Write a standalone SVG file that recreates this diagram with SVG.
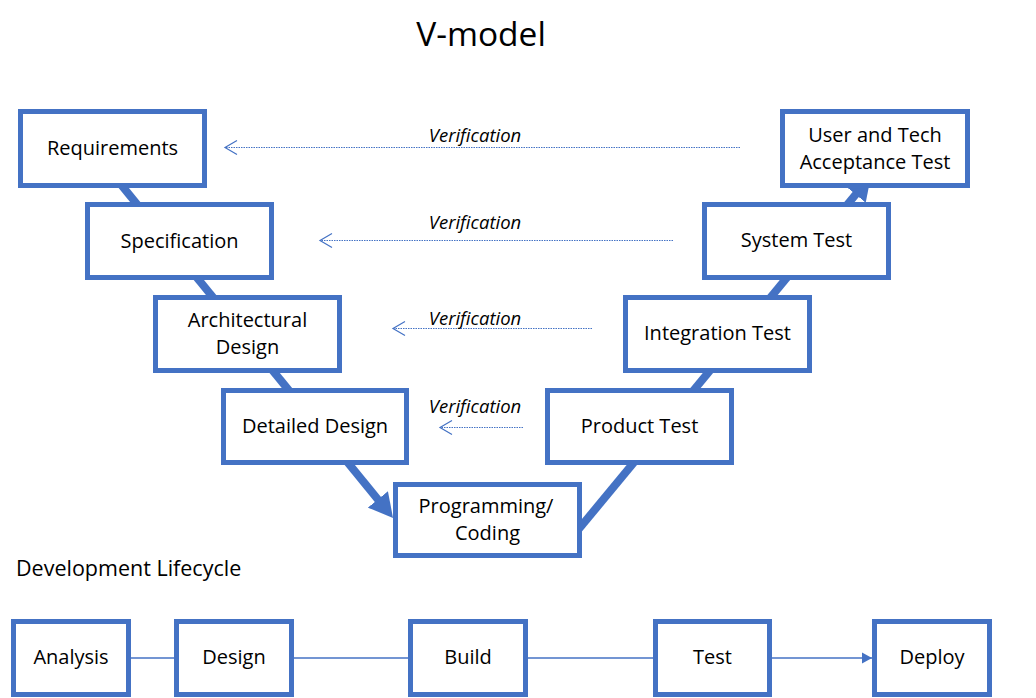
<svg xmlns="http://www.w3.org/2000/svg" width="1036" height="698" viewBox="0 0 1036 698">
<style>
  .box { fill: #ffffff; stroke: #4472C4; stroke-width: 5; }
  .lbl { font-family: "Open Sans", "Noto Sans", "Liberation Sans", sans-serif; font-size: 20px; fill: #000; text-anchor: middle; }
  .ver { font-family: "Open Sans", "Noto Sans", "Liberation Sans", sans-serif; font-size: 18.5px; font-style: italic; fill: #000; text-anchor: middle; }
  .thick { stroke: #4472C4; stroke-width: 8; fill: none; }
  .dot { stroke: #4472C4; stroke-width: 1.2; stroke-dasharray: 1.5 1; fill: none; }
  .thin { stroke: #4472C4; stroke-width: 1.5; fill: none; }
</style>
<defs>
  <marker id="big" markerUnits="userSpaceOnUse" markerWidth="24" markerHeight="26" refX="14" refY="13" orient="auto">
    <path d="M0,0 L24,13 L0,26 z" fill="#4472C4"/>
  </marker>
  <marker id="open" markerUnits="userSpaceOnUse" markerWidth="14" markerHeight="16" refX="13" refY="8" orient="auto" overflow="visible">
    <path d="M1,1 L13,8 L1,15" fill="none" stroke="#4472C4" stroke-width="1.2"/>
  </marker>
  <marker id="small" markerUnits="userSpaceOnUse" markerWidth="10" markerHeight="12" refX="10" refY="6" orient="auto">
    <path d="M0,0.5 L10,6 L0,11.5 z" fill="#4472C4"/>
  </marker>
</defs>

<text x="481" y="46" font-family="Open Sans, Noto Sans, Liberation Sans, sans-serif" font-size="33.5" text-anchor="middle" fill="#000">V-model</text>

<g id="connectors">
  <path class="thick" d="M105,165 L386.7,510.2" marker-end="url(#big)"/>
  <path class="thick" d="M578,530 L864.6,183.7" marker-end="url(#big)"/>
  <path class="dot" d="M740,147.5 L225,147.5" marker-end="url(#open)"/>
  <path class="dot" d="M673,240.5 L320,240.5" marker-end="url(#open)"/>
  <path class="dot" d="M592,328.5 L393,328.5" marker-end="url(#open)"/>
  <path class="dot" d="M523,427.5 L440,427.5" marker-end="url(#open)"/>
  <text class="ver" x="475" y="142">Verification</text>
  <text class="ver" x="475" y="229">Verification</text>
  <text class="ver" x="475" y="325">Verification</text>
  <text class="ver" x="475" y="413">Verification</text>
  <path class="thin" d="M131,658 L174,658"/>
  <path class="thin" d="M294,658 L408,658"/>
  <path class="thin" d="M528,658 L653,658"/>
  <path class="thin" d="M772,658 L872,658" marker-end="url(#small)"/>
</g>

<g id="requirements"><rect class="box" x="20.5" y="111.5" width="184" height="74"/><text class="lbl" x="112.5" y="155">Requirements</text></g>
<g id="specification"><rect class="box" x="87.5" y="204.5" width="184" height="73"/><text class="lbl" x="179.5" y="248">Specification</text></g>
<g id="architectural-design"><rect class="box" x="155.5" y="297.5" width="184" height="73"/><text class="lbl" x="247.5" y="327">Architectural</text><text class="lbl" x="247.5" y="354">Design</text></g>
<g id="detailed-design"><rect class="box" x="223.5" y="390.5" width="183" height="72"/><text class="lbl" x="315" y="433">Detailed Design</text></g>
<g id="programming"><rect class="box" x="395.5" y="484.5" width="184" height="71"/><text class="lbl" x="486" y="513">Programming/</text><text class="lbl" x="487.5" y="540">Coding</text></g>
<g id="acceptance-test"><rect class="box" x="782.5" y="111.5" width="185" height="74"/><text class="lbl" x="875" y="142">User and Tech</text><text class="lbl" x="875" y="169">Acceptance Test</text></g>
<g id="system-test"><rect class="box" x="704.5" y="204.5" width="184" height="73"/><text class="lbl" x="796.5" y="247">System Test</text></g>
<g id="integration-test"><rect class="box" x="625.5" y="297.5" width="184" height="73"/><text class="lbl" x="717.5" y="340">Integration Test</text></g>
<g id="product-test"><rect class="box" x="547.5" y="390.5" width="184" height="72"/><text class="lbl" x="639.5" y="433">Product Test</text></g>

<text x="16" y="576" font-family="Open Sans, Noto Sans, Liberation Sans, sans-serif" font-size="21.5" fill="#000">Development Lifecycle</text>

<g id="analysis"><rect class="box" x="13.5" y="621.5" width="115" height="73"/><text class="lbl" x="71" y="664">Analysis</text></g>
<g id="design"><rect class="box" x="176.5" y="621.5" width="115" height="73"/><text class="lbl" x="234" y="664">Design</text></g>
<g id="build"><rect class="box" x="410.5" y="621.5" width="115" height="73"/><text class="lbl" x="468" y="664">Build</text></g>
<g id="test"><rect class="box" x="655.5" y="621.5" width="114" height="73"/><text class="lbl" x="712.5" y="664">Test</text></g>
<g id="deploy"><rect class="box" x="874.5" y="621.5" width="115" height="73"/><text class="lbl" x="932" y="664">Deploy</text></g>
</svg>
